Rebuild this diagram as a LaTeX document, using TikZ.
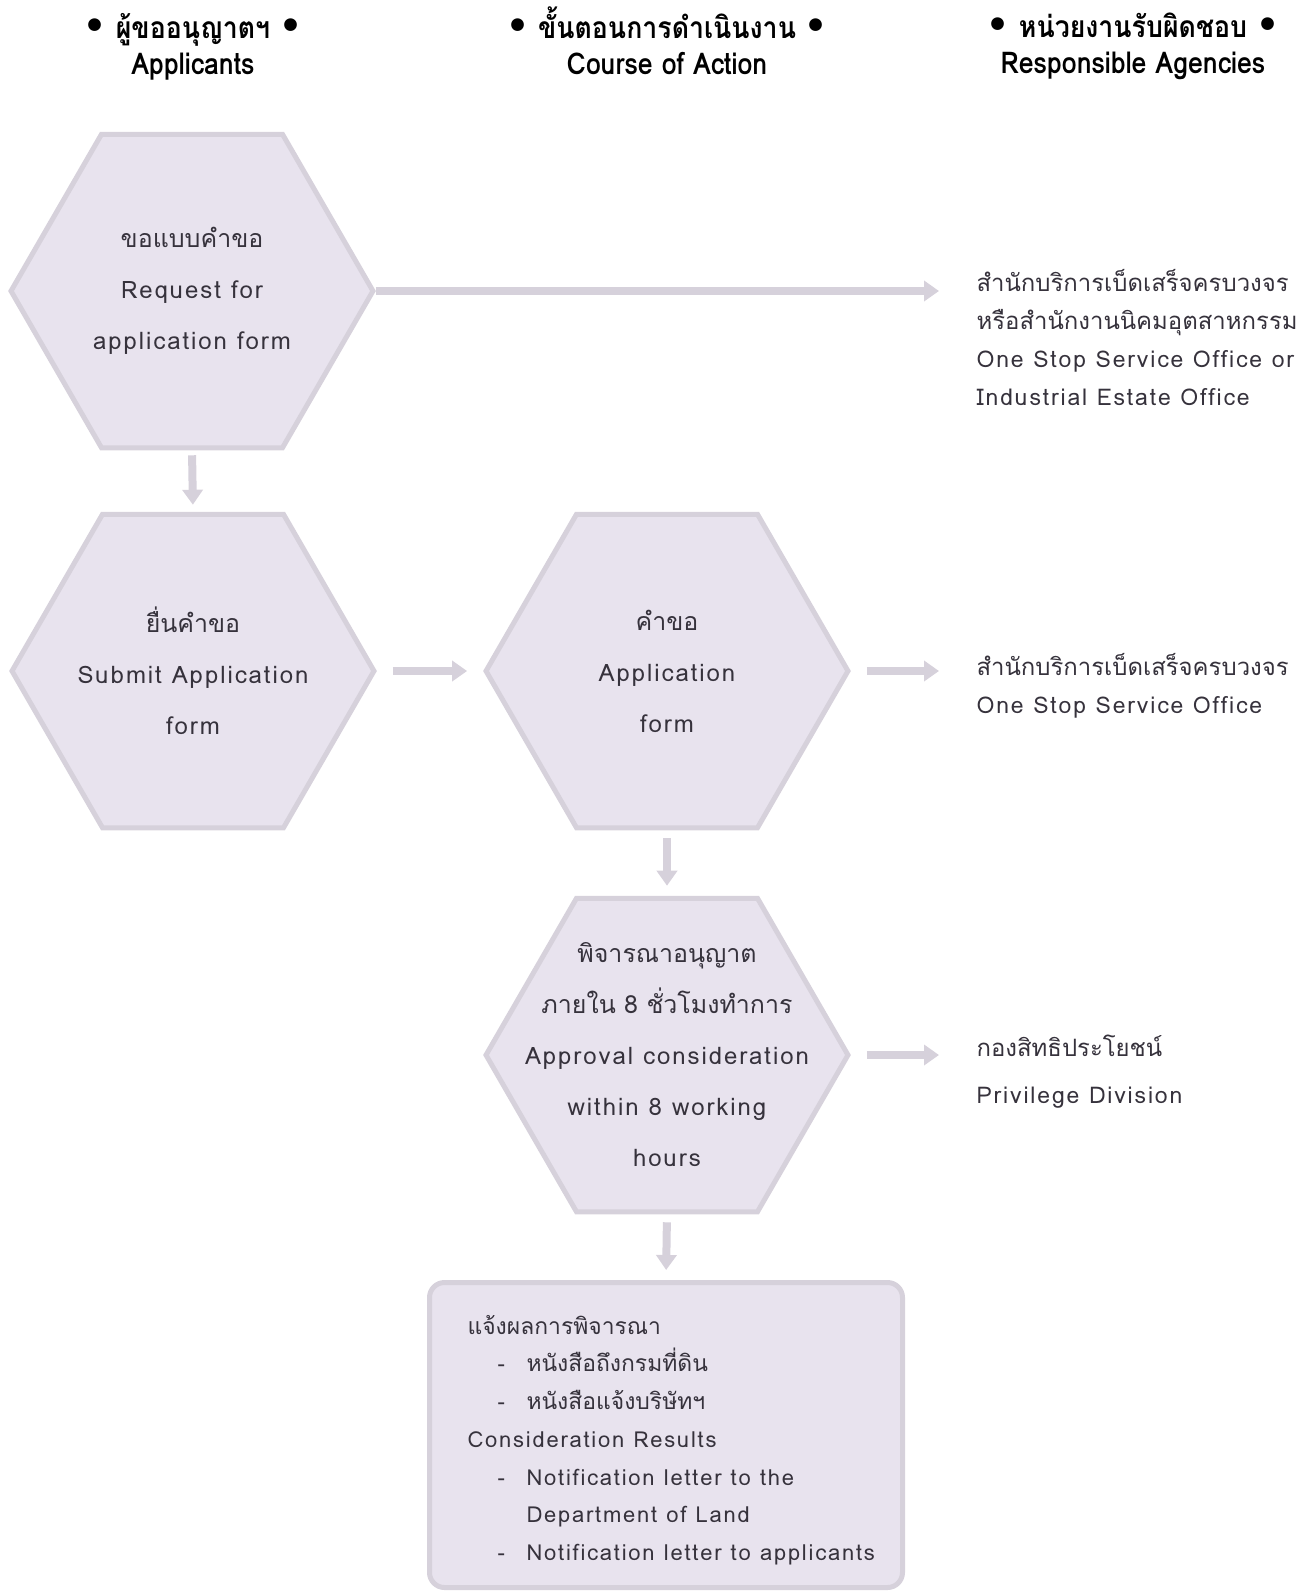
\documentclass[tikz,border=0pt]{standalone}
\usepackage{fontspec}
\usetikzlibrary{shapes.geometric,arrows.meta}
\newfontfamily\bodyfont[Script=Thai,LetterSpace=8]{Loma}
\newfontfamily\thaifont[Script=Thai,Scale=1.04]{Loma}
\newfontfamily\headfont[Script=Thai,FakeStretch=0.89]{Loma}
\newfontfamily\bulletfont{DejaVu Sans}
\definecolor{hexfill}{HTML}{E8E3EE}
\definecolor{hexline}{HTML}{D6D1DB}
\definecolor{ink}{HTML}{36323C}
\newcommand\headbullet{{\bulletfont\fontsize{36}{36}\selectfont •}}
\newcommand\headstrut{\rule{0pt}{36pt}}
\newcommand\thaitext[1]{{\thaifont #1}}

\begin{document}
\begin{tikzpicture}
    [x=1pt,y=-1pt,
     hexa/.style={regular polygon,regular polygon sides=6,minimum size=362pt,inner sep=0pt,draw=hexline,fill=hexfill,line width=5pt},
     txt/.style={align=center,text=ink,font=\bodyfont\fontsize{24}{51}\selectfont},
     agency/.style={align=left,anchor=west,text=ink,font=\bodyfont\fontsize{23}{38}\selectfont},
     head/.style={align=center,font=\headfont\bfseries\fontsize{30}{36}\selectfont},
     arr/.style={draw=hexline,line width=8pt,-{Triangle[length=15pt,width=20pt]}}]
    \useasboundingbox (0,0) rectangle (1311,1591);
    % column headings
    \node[head] (c1) at (193,41) {\headstrut\headbullet\ ผู้ขออนุญาตฯ \headbullet\\Applicants};
    \node[head] (c2) at (667,39) {\headstrut\headbullet\ ขั้นตอนการดำเนินงาน \headbullet\\Course of Action};
    \node[head] (c3) at (1133,41) {\headstrut\headbullet\ หน่วยงานรับผิดชอบ \headbullet\\Responsible Agencies};
    % steps
    \node[hexa] (h1) at (192,291) {};
    \node[hexa] (h2) at (193,671) {};
    \node[hexa] (h3) at (667,671) {};
    \node[hexa] (h4) at (667,1055) {};
    \node[draw=hexline,fill=hexfill,line width=5pt,rounded corners=15pt,minimum width=473pt,minimum height=305pt] (res) at (666,1435) {};
    \node[txt] (t1) at (h1) {\thaitext{ขอแบบคำขอ}\\Request for\\application form};
    \node[txt] (t2) at (h2) {\thaitext{ยื่นคำขอ}\\Submit Application\\form};
    \node[txt] (t3) at (h3) {\thaitext{คำขอ}\\Application\\form};
    \node[txt] (t4) at (h4) {\thaitext{พิจารณาอนุญาต}\\\thaitext{ภายใน 8 ชั่วโมงทำการ}\\Approval consideration\\within 8 working\\hours};
    \node[agency,font=\bodyfont\fontsize{22}{37.7}\selectfont] (t5) at (464,1440) {\thaitext{แจ้งผลการพิจารณา}\\
      \hspace*{30pt}\makebox[29pt][l]{-}\thaitext{หนังสือถึงกรมที่ดิน}\\
      \hspace*{30pt}\makebox[29pt][l]{-}\thaitext{หนังสือแจ้งบริษัทฯ}\\
      Consideration Results\\
      \hspace*{30pt}\makebox[29pt][l]{-}Notification letter to the\\
      \hspace*{59pt}Department of Land\\
      \hspace*{30pt}\makebox[29pt][l]{-}Notification letter to applicants};
    % agencies
    \node[agency] (r1) at (973,337) {\thaitext{สำนักบริการเบ็ดเสร็จครบวงจร}\\\thaitext{หรือสำนักงานนิคมอุตสาหกรรม}\\One Stop Service Office or\\Industrial Estate Office};
    \node[agency] (r2) at (973,686) {\thaitext{สำนักบริการเบ็ดเสร็จครบวงจร}\\One Stop Service Office};
    \node[agency,font=\bodyfont\fontsize{23}{47}\selectfont] (r3) at (973,1072) {\thaitext{กองสิทธิประโยชน์}\\Privilege Division};
    % arrows
    \draw[arr,shorten >=34pt] (h1.east) -- (h1.east -| r1.west);
    \draw[arr,shorten <=5pt,shorten >=7pt] (h1.south) -- (h2.north);
    \draw[arr,shorten <=16pt,shorten >=16pt] (h2.east) -- (h3.west);
    \draw[arr,shorten <=16pt,shorten >=34pt] (h3.east) -- (h3.east -| r2.west);
    \draw[arr,shorten <=8pt,shorten >=10pt] (h3.south) -- (h4.north);
    \draw[arr,shorten <=16pt,shorten >=34pt] (h4.east) -- (h4.east -| r3.west);
    \draw[arr,shorten <=8pt,shorten >=10pt] (h4.south) -- (res.north);
  \end{tikzpicture}
\end{document}
